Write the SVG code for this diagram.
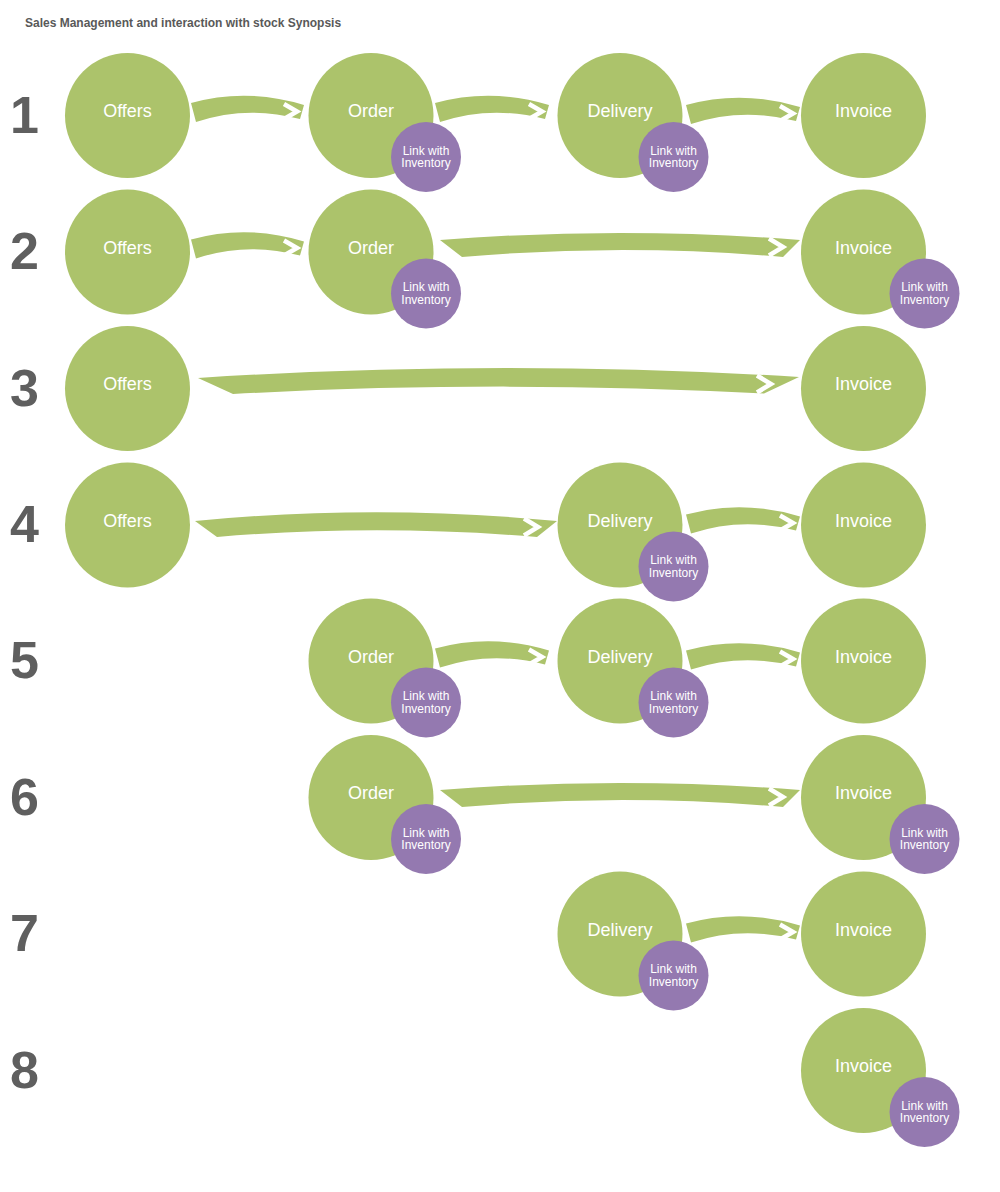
<svg xmlns="http://www.w3.org/2000/svg" width="1000" height="1192" viewBox="0 0 1000 1192">
<style>
.g{fill:#acc36b}
.p{fill:#9479b0}
.a{fill:#acc36b}
.ch{fill:none;stroke:#fff;stroke-width:4.5;stroke-linejoin:miter;stroke-miterlimit:10}
.gt{font-family:"Liberation Sans",Arial,sans-serif;font-size:18px;fill:#fff;text-anchor:middle}
.pt{font-family:"Liberation Sans",Arial,sans-serif;font-size:12px;fill:#fff;text-anchor:middle}
.num{font-family:"Liberation Sans",Arial,sans-serif;font-size:52px;font-weight:bold;fill:#5f5f5f}
.title{font-family:"Liberation Sans",Arial,sans-serif;font-size:12px;font-weight:bold;fill:#595959}
</style>
<rect width="1000" height="1192" fill="#fff"/>
<text class="title" x="25" y="27">Sales Management and interaction with stock Synopsis</text>
<g id="row-numbers">
<text class="num" x="10" y="132.5">1</text>
<text class="num" x="10" y="269">2</text>
<text class="num" x="10" y="405.5">3</text>
<text class="num" x="10" y="542">4</text>
<text class="num" x="10" y="678">5</text>
<text class="num" x="10" y="814.5">6</text>
<text class="num" x="10" y="951">7</text>
<text class="num" x="10" y="1087.5">8</text>
</g>
<g id="connectors">
<!-- row 1 -->
<path class="a" d="M191,103 Q246.5,87.5 304,105 L300,119 Q246.5,105 196,122 Z"/>
<polyline class="ch" points="284,104 297,111.5 284,119"/>
<path class="a" d="M435,103 Q491,87.5 549,105 L545,119 Q491,105 440,122 Z"/>
<polyline class="ch" points="529,104 542,111.5 529,119"/>
<path class="a" d="M686,105 Q742,89.5 800,107 L796,121 Q742,107 691,124 Z"/>
<polyline class="ch" points="780,106 793,113.5 780,121"/>
<!-- row 2 -->
<path class="a" d="M191,239.5 Q246.5,224 304,241.5 L300,255.5 Q246.5,241.5 196,258.5 Z"/>
<polyline class="ch" points="284,240.5 297,248 284,255.5"/>
<path class="a" d="M440,240 Q620,226 800,240 L783,257 Q622.5,243 462,257 Z"/>
<polyline class="ch" points="769,238.5 783,247 769,255.5"/>
<!-- row 3 -->
<path class="a" d="M198,378 Q499,358.5 799,377 L764,393.5 Q498.5,379.5 233,394 Z"/>
<polyline class="ch" points="757,375.5 771,384 757,392.5"/>
<!-- row 4 -->
<path class="a" d="M195,521 Q376,503.5 557,521 L537,537 Q377,523.5 217,537 Z"/>
<polyline class="ch" points="524,518.5 538,527 524,535.5"/>
<path class="a" d="M686,514.5 Q742,499 800,516.5 L796,530.5 Q742,516.5 691,533.5 Z"/>
<polyline class="ch" points="780,515.5 793,523 780,530.5"/>
<!-- row 5 -->
<path class="a" d="M435,648.5 Q491,633 549,650.5 L545,664.5 Q491,650.5 440,667.5 Z"/>
<polyline class="ch" points="529,649.5 542,657 529,664.5"/>
<path class="a" d="M686,650.5 Q742,635 800,652.5 L796,666.5 Q742,652.5 691,669.5 Z"/>
<polyline class="ch" points="780,651.5 793,659 780,666.5"/>
<!-- row 6 -->
<path class="a" d="M440,790 Q620,776 800,790 L783,807 Q622.5,793 462,807 Z"/>
<polyline class="ch" points="769,788.5 783,797 769,805.5"/>
<!-- row 7 -->
<path class="a" d="M686,923.5 Q742,908 800,925.5 L796,939.5 Q742,925.5 691,942.5 Z"/>
<polyline class="ch" points="780,924.5 793,932 780,939.5"/>
</g>
<!-- row 1 nodes -->
<g id="r1-offers"><circle class="g" cx="127.5" cy="115.5" r="62.5"/><text class="gt" x="127.5" y="117">Offers</text></g>
<g id="r1-order"><circle class="g" cx="371" cy="115.5" r="62.5"/><text class="gt" x="371" y="117">Order</text></g>
<g id="r1-delivery"><circle class="g" cx="620" cy="115.5" r="62.5"/><text class="gt" x="620" y="117">Delivery</text></g>
<g id="r1-invoice"><circle class="g" cx="863.5" cy="115.5" r="62.5"/><text class="gt" x="863.5" y="117">Invoice</text></g>
<g id="r1-order-link"><circle class="p" cx="426" cy="157" r="35"/><text class="pt" x="426" y="154.5">Link with</text><text class="pt" x="426" y="167">Inventory</text></g>
<g id="r1-delivery-link"><circle class="p" cx="673.5" cy="157" r="35"/><text class="pt" x="673.5" y="154.5">Link with</text><text class="pt" x="673.5" y="167">Inventory</text></g>
<!-- row 2 nodes -->
<g id="r2-offers"><circle class="g" cx="127.5" cy="252" r="62.5"/><text class="gt" x="127.5" y="253.5">Offers</text></g>
<g id="r2-order"><circle class="g" cx="371" cy="252" r="62.5"/><text class="gt" x="371" y="253.5">Order</text></g>
<g id="r2-invoice"><circle class="g" cx="863.5" cy="252" r="62.5"/><text class="gt" x="863.5" y="253.5">Invoice</text></g>
<g id="r2-order-link"><circle class="p" cx="426" cy="293.5" r="35"/><text class="pt" x="426" y="291">Link with</text><text class="pt" x="426" y="303.5">Inventory</text></g>
<g id="r2-invoice-link"><circle class="p" cx="924.5" cy="293.5" r="35"/><text class="pt" x="924.5" y="291">Link with</text><text class="pt" x="924.5" y="303.5">Inventory</text></g>
<!-- row 3 nodes -->
<g id="r3-offers"><circle class="g" cx="127.5" cy="388.5" r="62.5"/><text class="gt" x="127.5" y="390">Offers</text></g>
<g id="r3-invoice"><circle class="g" cx="863.5" cy="388.5" r="62.5"/><text class="gt" x="863.5" y="390">Invoice</text></g>
<!-- row 4 nodes -->
<g id="r4-offers"><circle class="g" cx="127.5" cy="525" r="62.5"/><text class="gt" x="127.5" y="526.5">Offers</text></g>
<g id="r4-delivery"><circle class="g" cx="620" cy="525" r="62.5"/><text class="gt" x="620" y="526.5">Delivery</text></g>
<g id="r4-invoice"><circle class="g" cx="863.5" cy="525" r="62.5"/><text class="gt" x="863.5" y="526.5">Invoice</text></g>
<g id="r4-delivery-link"><circle class="p" cx="673.5" cy="566.5" r="35"/><text class="pt" x="673.5" y="564">Link with</text><text class="pt" x="673.5" y="576.5">Inventory</text></g>
<!-- row 5 nodes -->
<g id="r5-order"><circle class="g" cx="371" cy="661" r="62.5"/><text class="gt" x="371" y="662.5">Order</text></g>
<g id="r5-delivery"><circle class="g" cx="620" cy="661" r="62.5"/><text class="gt" x="620" y="662.5">Delivery</text></g>
<g id="r5-invoice"><circle class="g" cx="863.5" cy="661" r="62.5"/><text class="gt" x="863.5" y="662.5">Invoice</text></g>
<g id="r5-order-link"><circle class="p" cx="426" cy="702.5" r="35"/><text class="pt" x="426" y="700">Link with</text><text class="pt" x="426" y="712.5">Inventory</text></g>
<g id="r5-delivery-link"><circle class="p" cx="673.5" cy="702.5" r="35"/><text class="pt" x="673.5" y="700">Link with</text><text class="pt" x="673.5" y="712.5">Inventory</text></g>
<!-- row 6 nodes -->
<g id="r6-order"><circle class="g" cx="371" cy="797.5" r="62.5"/><text class="gt" x="371" y="799">Order</text></g>
<g id="r6-invoice"><circle class="g" cx="863.5" cy="797.5" r="62.5"/><text class="gt" x="863.5" y="799">Invoice</text></g>
<g id="r6-order-link"><circle class="p" cx="426" cy="839" r="35"/><text class="pt" x="426" y="836.5">Link with</text><text class="pt" x="426" y="849">Inventory</text></g>
<g id="r6-invoice-link"><circle class="p" cx="924.5" cy="839" r="35"/><text class="pt" x="924.5" y="836.5">Link with</text><text class="pt" x="924.5" y="849">Inventory</text></g>
<!-- row 7 nodes -->
<g id="r7-delivery"><circle class="g" cx="620" cy="934" r="62.5"/><text class="gt" x="620" y="935.5">Delivery</text></g>
<g id="r7-invoice"><circle class="g" cx="863.5" cy="934" r="62.5"/><text class="gt" x="863.5" y="935.5">Invoice</text></g>
<g id="r7-delivery-link"><circle class="p" cx="673.5" cy="975.5" r="35"/><text class="pt" x="673.5" y="973">Link with</text><text class="pt" x="673.5" y="985.5">Inventory</text></g>
<!-- row 8 nodes -->
<g id="r8-invoice"><circle class="g" cx="863.5" cy="1070.5" r="62.5"/><text class="gt" x="863.5" y="1072">Invoice</text></g>
<g id="r8-invoice-link"><circle class="p" cx="924.5" cy="1112" r="35"/><text class="pt" x="924.5" y="1109.5">Link with</text><text class="pt" x="924.5" y="1122">Inventory</text></g>
</svg>
